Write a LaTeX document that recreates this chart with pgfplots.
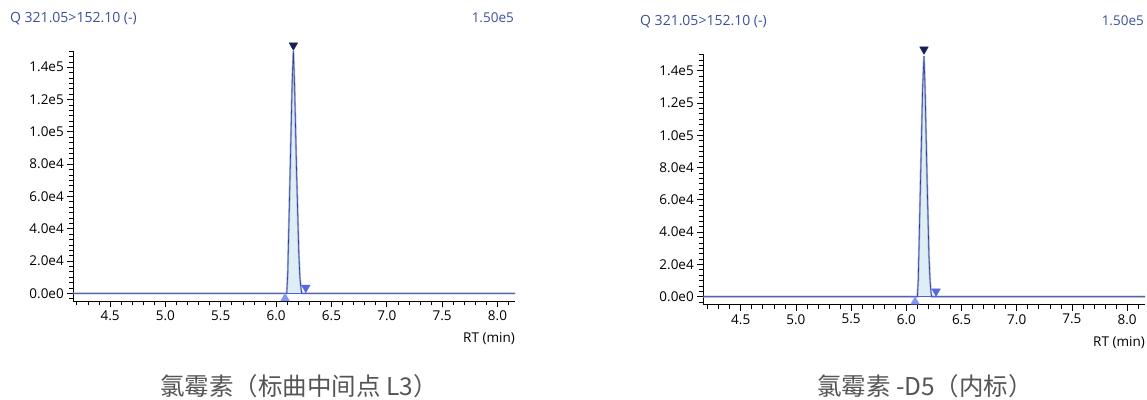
\documentclass[border=0pt]{standalone}
\usepackage{pgfplots}
\pgfplotsset{compat=1.18}
\usepackage{fontspec}
\setmainfont{Open Sans}
\newfontfamily\cjk{Noto Sans CJK SC}
\definecolor{ttl}{RGB}{60,80,155}
\definecolor{halo}{RGB}{165,178,215}
\definecolor{core}{RGB}{45,60,145}
\definecolor{pkfill}{RGB}{221,238,246}
\definecolor{segblue}{RGB}{70,95,230}
\definecolor{apexc}{RGB}{22,32,85}
\definecolor{startc}{RGB}{130,150,245}
\definecolor{endc}{RGB}{85,105,225}
\definecolor{capc}{RGB}{85,85,85}
\pgfplotsset{
  chrom/.style={
    width=441.7pt, height=250.3pt, scale only axis,
    axis x line*=bottom, axis y line*=left,
    axis line style={-, line width=0.8pt, black},
    ymin=-5000, ymax=150000,
    ytick={0,20000,40000,60000,80000,100000,120000,140000},
    yticklabels={0.0e0,2.0e4,4.0e4,6.0e4,8.0e4,1.0e5,1.2e5,1.4e5},
    minor ytick={-3333.3,3333.3,6666.7,10000,13333.3,16666.7,23333.3,26666.7,30000,33333.3,36666.7,43333.3,46666.7,50000,53333.3,56666.7,63333.3,66666.7,70000,73333.3,76666.7,83333.3,86666.7,90000,93333.3,96666.7,103333.3,106666.7,110000,113333.3,116666.7,123333.3,126666.7,130000,133333.3,136666.7,143333.3,146666.7,150000},
    xtick={4.5,5.0,5.5,6.0,6.5,7.0,7.5,8.0},
    xticklabels={4.5,5.0,5.5,6.0,6.5,7.0,7.5,8.0},
    minor xtick={4.2,4.3,4.4,4.6,4.7,4.8,4.9,5.1,5.2,5.3,5.4,5.6,5.7,5.8,5.9,6.1,6.2,6.3,6.4,6.6,6.7,6.8,6.9,7.1,7.2,7.3,7.4,7.6,7.7,7.8,7.9,8.1},
    tick align=outside, major tick length=6pt, minor tick length=4pt,
    tick style={black, line width=0.7pt},
    scaled y ticks=false, scaled x ticks=false,
    tick label style={font=\fontsize{13.5}{15}\selectfont, black},
    xlabel={RT (min)},
    xlabel style={at={(axis description cs:1,0)}, anchor=east, yshift=-37.5pt, inner sep=0pt, font=\fontsize{13.5}{15}\selectfont},
    clip=false,
  }
}
\begin{document}
\begin{tikzpicture}[x=1pt,y=1pt]
\path[use as bounding box] (0,0) rectangle (1147,399);
% ---------- left panel ----------
\begin{axis}[chrom, at={(73.3pt,97.6pt)}, anchor=south west, xmin=4.168, xmax=8.158]
\addplot[fill=pkfill, draw=none] coordinates {(6.096,0) (6.105,12000) (6.125,70000) (6.145,130000) (6.156,150000) (6.167,128000) (6.185,75000) (6.205,25000) (6.215,10000) (6.225,3000) (6.232,0)};
\addplot[halo, line width=2pt] coordinates {(4.168,0) (6.096,0) (6.105,12000) (6.125,70000) (6.145,130000) (6.156,150000) (6.167,128000) (6.185,75000) (6.205,25000) (6.215,10000) (6.225,3000) (6.232,0) (8.158,0)};
\addplot[core, line width=0.6pt] coordinates {(4.168,0) (6.096,0) (6.105,12000) (6.125,70000) (6.145,130000) (6.156,150000) (6.167,128000) (6.185,75000) (6.205,25000) (6.215,10000) (6.225,3000) (6.232,0) (8.158,0)};
\addplot[segblue, line width=0.9pt] coordinates {(6.085,0) (6.265,0)};
\addplot[only marks, mark=triangle*, mark size=5pt, mark options={rotate=180, fill=apexc, draw=apexc}] coordinates {(6.156,153600)};
\addplot[only marks, mark=triangle*, mark size=5pt, mark options={fill=startc, draw=startc}] coordinates {(6.081,-3100)};
\addplot[only marks, mark=triangle*, mark size=5pt, mark options={rotate=180, fill=endc, draw=endc}] coordinates {(6.268,3500)};
\end{axis}
% ---------- right panel ----------
\begin{axis}[chrom, at={(703.3pt,94.2pt)}, anchor=south west, xmin=4.161, xmax=8.162]
\addplot[fill=pkfill, draw=none] coordinates {(6.100,0) (6.108,10000) (6.128,70000) (6.148,130000) (6.160,149000) (6.170,128000) (6.188,72000) (6.205,25000) (6.215,10000) (6.223,3000) (6.230,0)};
\addplot[halo, line width=2pt] coordinates {(4.161,0) (6.100,0) (6.108,10000) (6.128,70000) (6.148,130000) (6.160,149000) (6.170,128000) (6.188,72000) (6.205,25000) (6.215,10000) (6.223,3000) (6.230,0) (8.162,0)};
\addplot[core, line width=0.6pt] coordinates {(4.161,0) (6.100,0) (6.108,10000) (6.128,70000) (6.148,130000) (6.160,149000) (6.170,128000) (6.188,72000) (6.205,25000) (6.215,10000) (6.223,3000) (6.230,0) (8.162,0)};
\addplot[segblue, line width=0.9pt] coordinates {(6.085,0) (6.265,0)};
\addplot[only marks, mark=triangle*, mark size=5pt, mark options={rotate=180, fill=apexc, draw=apexc}] coordinates {(6.160,153200)};
\addplot[only marks, mark=triangle*, mark size=5pt, mark options={fill=startc, draw=startc}] coordinates {(6.079,-3100)};
\addplot[only marks, mark=triangle*, mark size=5pt, mark options={rotate=180, fill=endc, draw=endc}] coordinates {(6.269,3300)};
\end{axis}
% ---------- texts ----------
\node[anchor=west, inner sep=0pt, text=ttl, font=\fontsize{14}{16}\selectfont] at (10,380) {Q 321.05>152.10 (-)};
\node[anchor=east, inner sep=0pt, text=ttl, font=\fontsize{13.5}{15}\selectfont] at (514,381) {1.50e5};
\node[anchor=west, inner sep=0pt, text=ttl, font=\fontsize{14}{16}\selectfont] at (640,377) {Q 321.05>152.10 (-)};
\node[anchor=east, inner sep=0pt, text=ttl, font=\fontsize{13.5}{15}\selectfont] at (1144,378) {1.50e5};
\node[inner sep=0pt, text=capc, font=\cjk\fontsize{24.5}{27}\selectfont] at (299,13) {氯霉素（标曲中间点 L3）};
\node[inner sep=0pt, text=capc, font=\cjk\fontsize{24.5}{27}\selectfont] at (925,13) {氯霉素 -D5（内标）};
\end{tikzpicture}
\end{document}
